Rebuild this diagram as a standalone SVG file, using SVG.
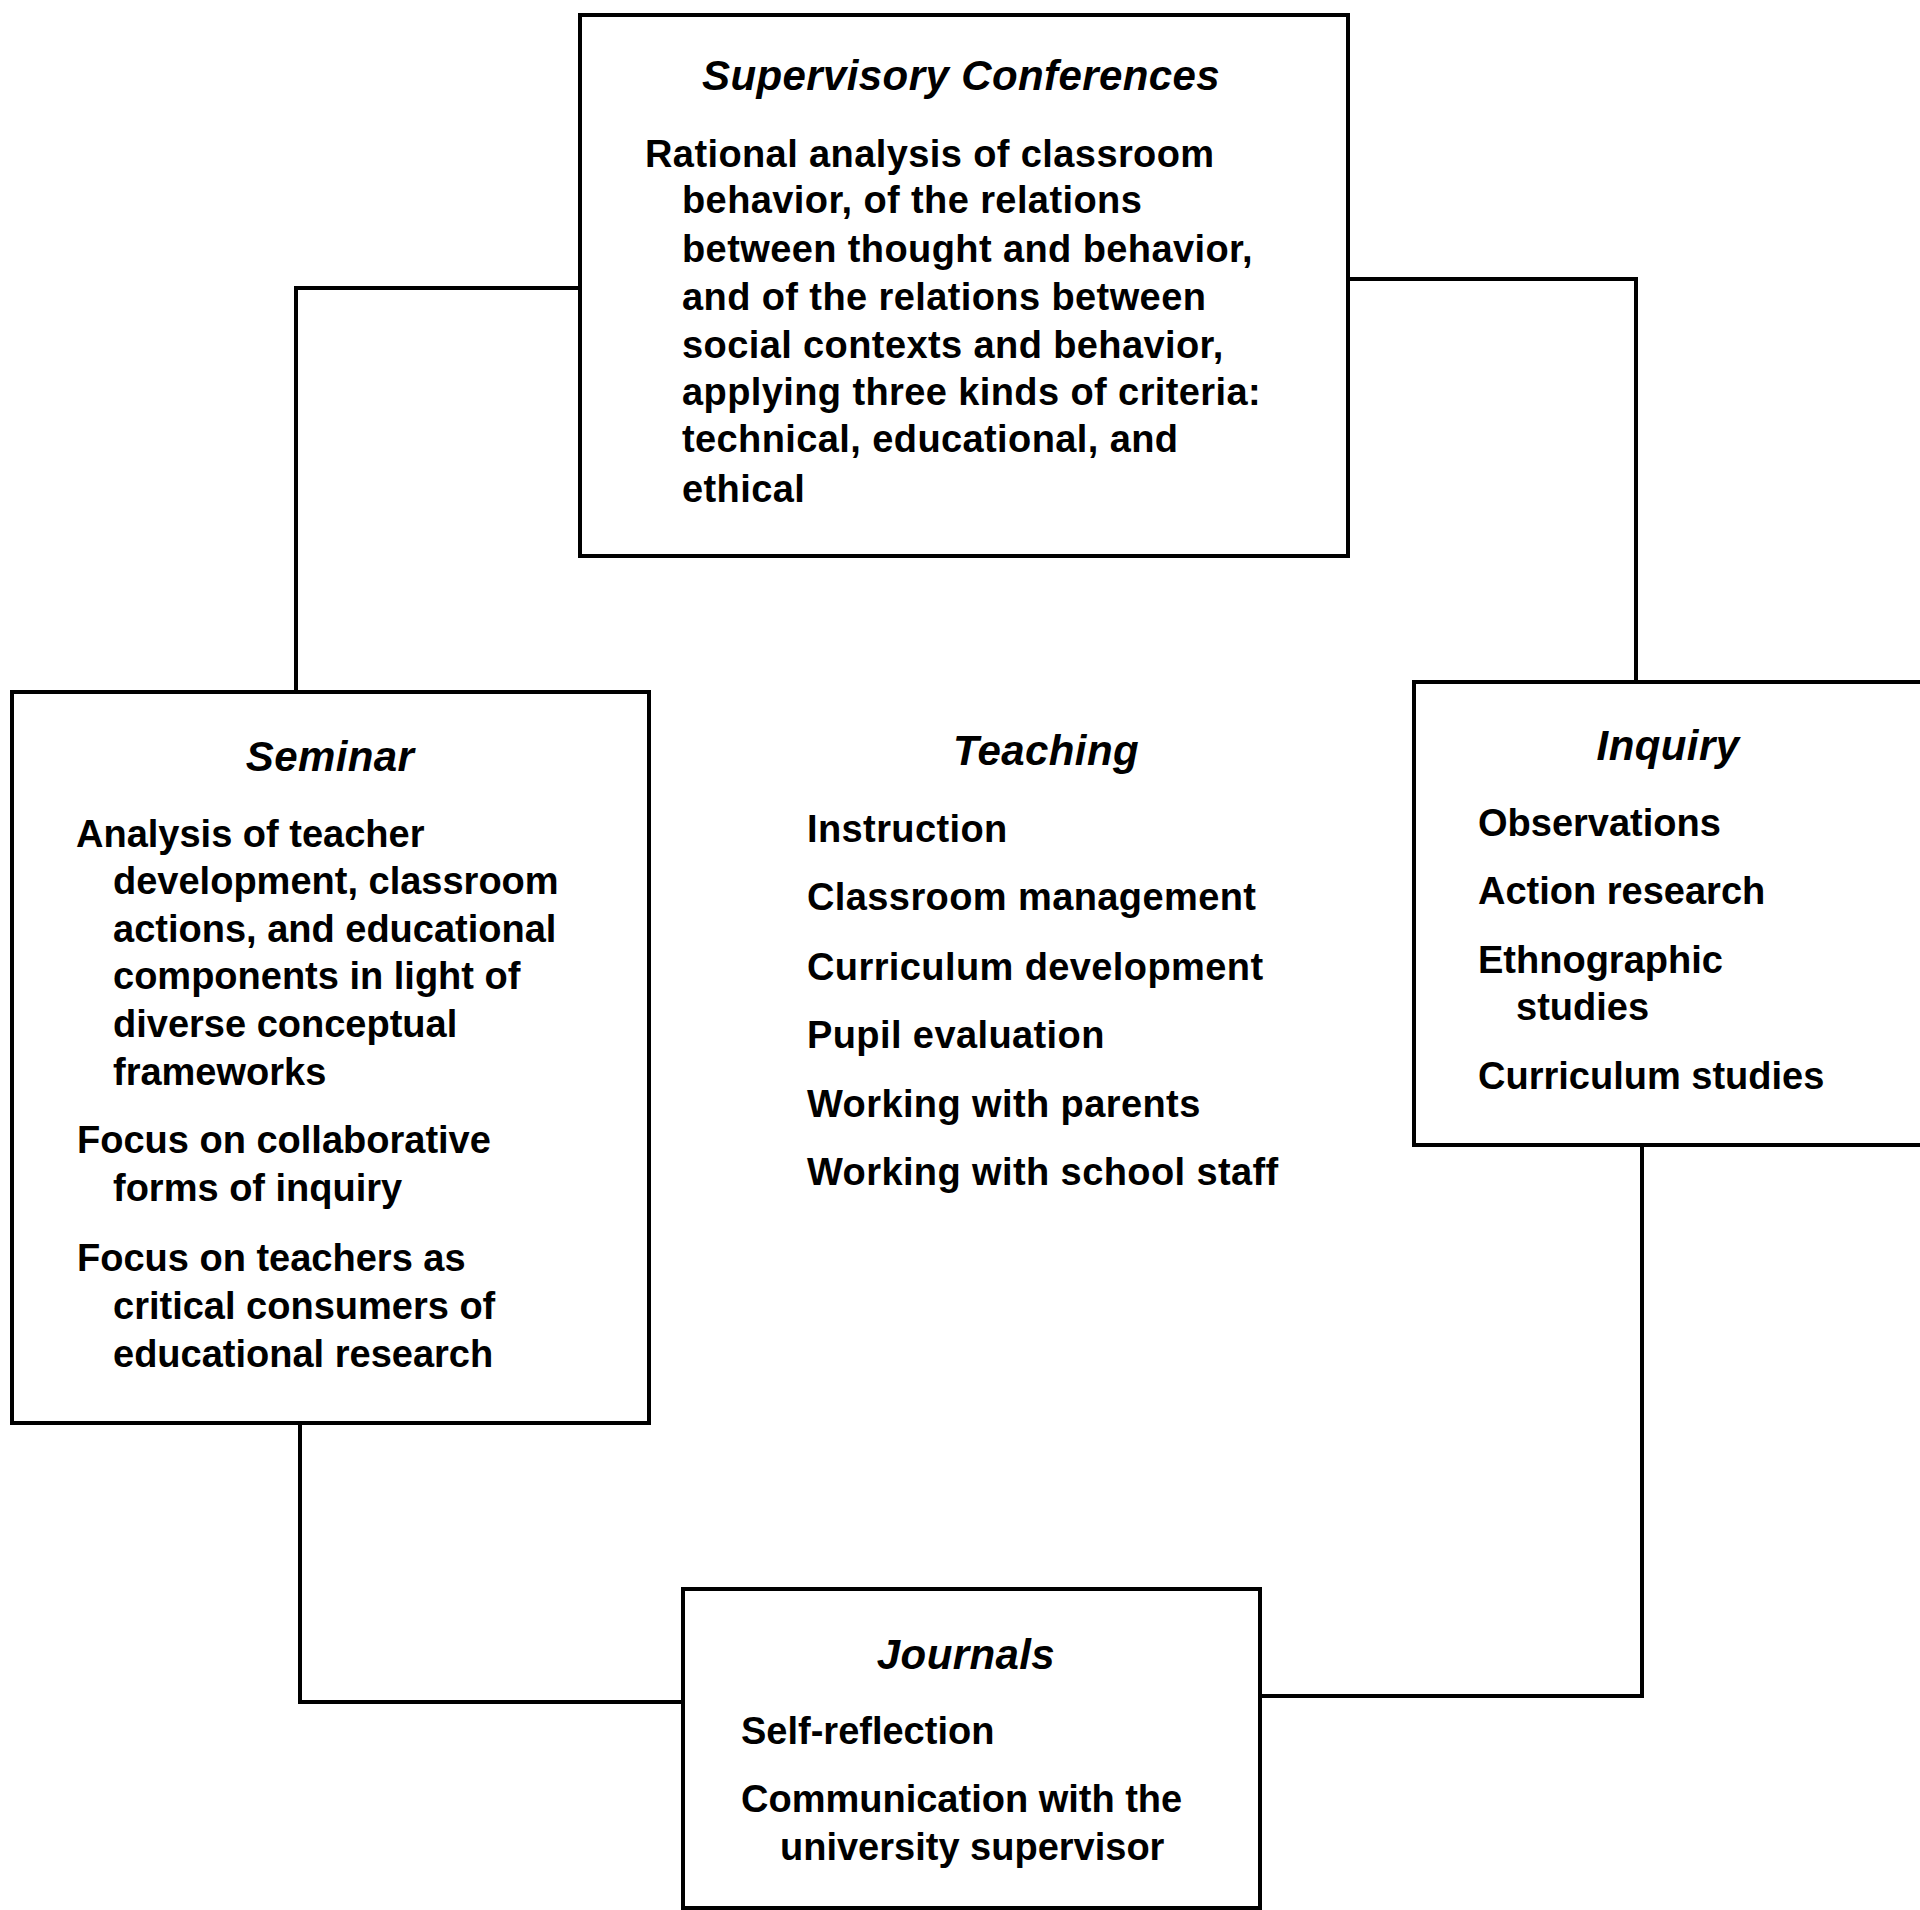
<svg xmlns="http://www.w3.org/2000/svg" width="1920" height="1910" viewBox="0 0 1920 1910">
<style>
.box{fill:#fff;stroke:#000;stroke-width:4}
.conn{fill:none;stroke:#000;stroke-width:4;stroke-linejoin:miter}
text{font-family:"Liberation Sans",Arial,Helvetica,sans-serif;font-weight:bold;font-size:38px;fill:#000}
.h{font-style:italic;font-size:42px;text-anchor:middle;letter-spacing:0.4px}
.w{letter-spacing:0.4px}
</style>
<rect width="1920" height="1910" fill="#fff"/>
<g id="connectors">
<polyline class="conn" points="580,288 296,288 296,692"/>
<polyline class="conn" points="1348,279 1636,279 1636,682"/>
<polyline class="conn" points="300,1423 300,1702 683,1702"/>
<polyline class="conn" points="1642,1145 1642,1696 1260,1696"/>
</g>
<g id="supervisory-conferences">
<rect class="box" x="580" y="15" width="768" height="541"/>
<text class="h" x="961" y="90">Supervisory Conferences</text>
<text class="w" x="645" y="167">Rational analysis of classroom</text>
<text class="w" x="682" y="213">behavior, of the relations</text>
<text class="w" x="682" y="262">between thought and behavior,</text>
<text class="w" x="682" y="310">and of the relations between</text>
<text class="w" x="682" y="358">social contexts and behavior,</text>
<text class="w" x="682" y="405">applying three kinds of criteria:</text>
<text class="w" x="682" y="452">technical, educational, and</text>
<text class="w" x="682" y="502">ethical</text>
</g>
<g id="seminar">
<rect class="box" x="12" y="692" width="637" height="731"/>
<text class="h" x="330" y="771">Seminar</text>
<text x="76" y="847">Analysis of teacher</text>
<text x="113" y="894">development, classroom</text>
<text x="113" y="942">actions, and educational</text>
<text x="113" y="989">components in light of</text>
<text x="113" y="1037">diverse conceptual</text>
<text x="113" y="1085">frameworks</text>
<text x="77" y="1153">Focus on collaborative</text>
<text x="113" y="1201">forms of inquiry</text>
<text x="77" y="1271">Focus on teachers as</text>
<text x="113" y="1319">critical consumers of</text>
<text x="113" y="1367">educational research</text>
</g>
<g id="teaching">
<text class="h" x="1046" y="765">Teaching</text>
<text class="w" x="807" y="842">Instruction</text>
<text class="w" x="807" y="910">Classroom management</text>
<text class="w" x="807" y="980">Curriculum development</text>
<text class="w" x="807" y="1048">Pupil evaluation</text>
<text class="w" x="807" y="1117">Working with parents</text>
<text class="w" x="807" y="1185">Working with school staff</text>
</g>
<g id="inquiry">
<rect class="box" x="1414" y="682" width="530" height="463"/>
<text class="h" x="1668" y="760">Inquiry</text>
<text x="1478" y="836">Observations</text>
<text x="1478" y="904">Action research</text>
<text x="1478" y="973">Ethnographic</text>
<text x="1516" y="1020">studies</text>
<text x="1478" y="1089">Curriculum studies</text>
</g>
<g id="journals">
<rect class="box" x="683" y="1589" width="577" height="319"/>
<text class="h" x="966" y="1669">Journals</text>
<text x="741" y="1744">Self-reflection</text>
<text x="741" y="1812">Communication with the</text>
<text x="780" y="1860">university supervisor</text>
</g>
</svg>
